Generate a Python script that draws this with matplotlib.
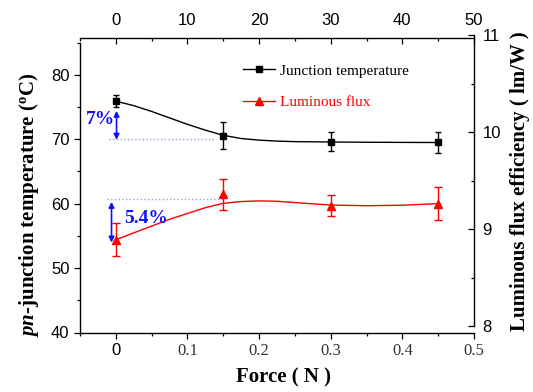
import numpy as np
import matplotlib
matplotlib.use('Agg')
import matplotlib.pyplot as plt
from matplotlib.lines import Line2D
from matplotlib.ticker import MultipleLocator

plt.rcParams['font.family'] = 'Liberation Sans'
plt.rcParams['mathtext.fontset'] = 'custom'
plt.rcParams['mathtext.rm'] = 'Liberation Serif:bold'
plt.rcParams['mathtext.it'] = 'Liberation Serif:italic:bold'
plt.rcParams['mathtext.bf'] = 'Liberation Serif:bold'

''' data read off the figure '''
force = [0.0, 0.15, 0.30, 0.45]            # N
junction_temp = [75.9, 70.5, 69.6, 69.5]   # deg C
junction_err = [0.9, 2.1, 1.5, 1.6]
lum_eff = [8.89, 9.36, 9.24, 9.26]         # lm/W
lum_err = [0.17, 0.16, 0.11, 0.17]

# smooth fit curves as drawn in the figure
fit_force = [0.0, 0.025, 0.05, 0.075, 0.10, 0.125, 0.15, 0.175, 0.20,
             0.225, 0.25, 0.30, 0.35, 0.40, 0.45]
fit_temp = [75.9, 75.2, 74.3, 73.3, 72.3, 71.4, 70.6, 70.1, 69.85,
            69.7, 69.62, 69.56, 69.52, 69.5, 69.48]
fit_lum = [8.89, 8.96, 9.03, 9.10, 9.16, 9.22, 9.265, 9.283, 9.29,
           9.286, 9.272, 9.247, 9.24, 9.245, 9.262]

top_ticks = [0, 10, 20, 30, 40, 50]
bottom_ticks = [0, 0.1, 0.2, 0.3, 0.4, 0.5]
bottom_labels = ['0', '0.1', '0.2', '0.3', '0.4', '0.5']

serif = 'Liberation Serif'
W, H = 533, 392
fig = plt.figure(figsize=(W / 100, H / 100), dpi=100)

def frac(x0, y0, x1, y1):
    # pixel box (top-left origin) -> figure fraction rect
    return [x0 / W, 1 - y1 / H, (x1 - x0) / W, (y1 - y0) / H]

## main axes: left + bottom
ax = fig.add_axes(frac(80, 42.5, 474, 332.5))
ax.set_xlim(-0.05, 0.5)
ax.set_ylim(40, 85)
for s in ['top', 'right']:
    ax.spines[s].set_visible(False)
for s in ['left', 'bottom']:
    ax.spines[s].set_linewidth(1.0)
ax.yaxis.set_major_locator(MultipleLocator(10))
ax.yaxis.set_minor_locator(MultipleLocator(5))
ax.xaxis.set_minor_locator(MultipleLocator(0.05))
ax.set_xticks(bottom_ticks)
ax.set_xticklabels(bottom_labels)
ax.tick_params(which='major', direction='out', length=4.5, width=0.9, labelsize=12, pad=3)
ax.tick_params(which='minor', direction='out', length=2.2, width=0.9)
for lbl in ax.get_xticklabels()[1:]:
    lbl.set_family(serif)
    lbl.set_color('#333333')

## right axes (offset slightly from the main one, as in the figure)
ax_r = fig.add_axes(frac(80, 35, 474, 326))
ax_r.patch.set_visible(False)
ax_r.set_xlim(-0.05, 0.5)
ax_r.set_ylim(8, 11)
for s in ['top', 'left', 'bottom']:
    ax_r.spines[s].set_visible(False)
ax_r.spines['right'].set_linewidth(1.0)
ax_r.xaxis.set_visible(False)
ax_r.yaxis.tick_right()
ax_r.yaxis.set_major_locator(MultipleLocator(1))
ax_r.yaxis.set_minor_locator(MultipleLocator(0.5))
ax_r.tick_params(which='major', direction='in', length=4.5, width=0.9, labelsize=12, pad=6)
ax_r.tick_params(which='minor', direction='in', length=2.2, width=0.9)

## top axes
ax_t = fig.add_axes(frac(80, 38, 474, 200))
ax_t.patch.set_visible(False)
ax_t.set_xlim(-5, 50)
for s in ['bottom', 'left', 'right']:
    ax_t.spines[s].set_visible(False)
ax_t.spines['top'].set_linewidth(1.0)
ax_t.yaxis.set_visible(False)
ax_t.xaxis.tick_top()
ax_t.set_xticks(top_ticks)
ax_t.xaxis.set_minor_locator(MultipleLocator(5))
ax_t.tick_params(which='major', direction='in', length=4.5, width=0.9, labelsize=12, pad=7)
ax_t.tick_params(which='minor', direction='in', length=2.2, width=0.9)

## data
ax.plot(fit_force, fit_temp, color='black', lw=1.0, zorder=2)
ax.errorbar(force, junction_temp, yerr=junction_err, fmt='s', color='black',
            ms=4.5, capsize=2.5, elinewidth=1.0, capthick=1.0, zorder=3)
ax_r.plot(fit_force, fit_lum, color='red', lw=1.0, zorder=2)
ax_r.errorbar(force, lum_eff, yerr=lum_err, fmt='^', color='red',
              ms=5.5, capsize=3.2, elinewidth=1.0, capthick=1.0, zorder=3)

## annotations
blue = '#1010ff'
ax.plot([-0.009, 0.14], [70.0, 70.0], ls=':', color='#9999ff', lw=1.0)
ax.annotate('', xy=(0.001, 69.9), xytext=(0.001, 74.4),
            arrowprops=dict(arrowstyle='<|-|>', color=blue, lw=1.2,
                            mutation_scale=8, shrinkA=0, shrinkB=0))
ax.text(-0.022, 73.0, '7%', color=blue, fontsize=14, fontweight='bold',
        family=serif, ha='center', va='center')

ax_r.plot([-0.013, 0.148], [9.306, 9.306], ls=':', color='#9999ff', lw=1.0)
ax_r.annotate('', xy=(-0.006, 8.86), xytext=(-0.006, 9.28),
              arrowprops=dict(arrowstyle='<|-|>', color=blue, lw=1.2,
                              mutation_scale=8, shrinkA=0, shrinkB=0))
ax_r.text(0.043, 9.113, '5.4%', color=blue, fontsize=14, fontweight='bold',
          family=serif, ha='center', va='center')

## legend
handles = [Line2D([], [], color='black', marker='s', ms=4.5, lw=1.0),
           Line2D([], [], color='red', marker='^', ms=5.5, lw=1.0)]
leg = fig.legend(handles, ['Junction temperature', 'Luminous flux'],
                 loc='upper left', bbox_to_anchor=(243 / W, 1 - 64 / H),
                 frameon=False, borderpad=0, borderaxespad=0,
                 handlelength=2.1, handletextpad=0.35, labelspacing=1.15,
                 prop={'family': serif, 'size': 11}, labelcolor='linecolor')

## axis labels
fig.text(29 / W, 1 - 205 / H, r'$pn$-junction temperature ($^{\rm o}$C)',
         rotation=90, ha='center', va='center', fontsize=15,
         fontweight='bold', family=serif)
fig.text(520 / W, 1 - 181 / H, 'Luminous flux efficiency ( lm/W )',
         rotation=90, ha='center', va='center', fontsize=15,
         fontweight='bold', family=serif)
fig.text(284 / W, 1 - 377 / H, 'Force ( N )', ha='center', va='center',
         fontsize=15, fontweight='bold', family=serif)

fig.savefig('out.png', dpi=100)
